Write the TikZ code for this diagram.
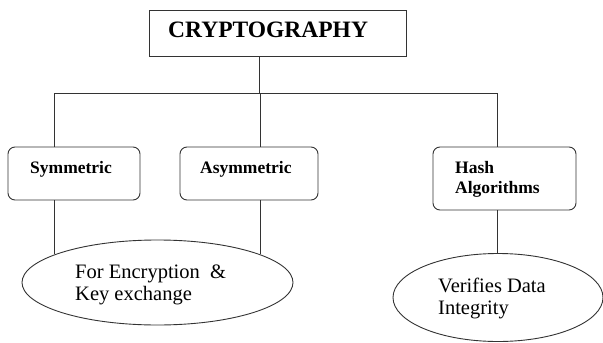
\documentclass[tikz,border=0pt]{standalone}
\usepackage{fontspec}
\setmainfont{Liberation Serif}
\usetikzlibrary{shapes.geometric}
\begin{document}
\begin{tikzpicture}[x=1pt,y=-1pt,
  ln/.style={draw=black!80,line width=0.9pt},
  topbox/.style={ln,rectangle,minimum width=257pt,minimum height=46pt,inner sep=0pt},
  catbox/.style={ln,rectangle,rounded corners=7pt,inner sep=0pt},
  oval/.style={ln,ellipse,inner sep=0pt},
  lbl/.style={font=\bfseries\fontsize{17.5}{20}\selectfont,anchor=base west,inner sep=0pt},
  txt/.style={font=\fontsize{20.5}{24}\selectfont,anchor=base west,inner sep=0pt}]
\useasboundingbox (0,0) rectangle (603,343);
% top
\node[topbox] (top) at (277.5,33) {};
\node[font=\bfseries\fontsize{23.5}{26}\selectfont,inner sep=0pt,anchor=base west] (toplbl) at (168,37) {CRYPTOGRAPHY};
% category boxes
\node[catbox,minimum width=132pt,minimum height=53pt] (sym) at (74,173.5) {};
\node[catbox,minimum width=138pt,minimum height=53pt] (asym) at (249,173.5) {};
\node[catbox,minimum width=143pt,minimum height=63pt] (hash) at (504.5,178.5) {};
\node[lbl] (symlbl) at (30,173) {Symmetric};
\node[lbl] (asymlbl) at (200,173) {Asymmetric};
\node[lbl] (hashlbl1) at (455,173) {Hash};
\node[lbl] (hashlbl2) at (455,193) {Algorithms};
% ellipses
\node[oval,minimum width=271pt,minimum height=85pt] (e1) at (157.5,282.5) {};
\node[oval,minimum width=210pt,minimum height=88pt] (e2) at (498,297.5) {};
\node[txt] (e1t1) at (75,278) {For Encryption \ \&};
\node[txt] (e1t2) at (75,300) {Key exchange};
\node[txt] (e2t1) at (438,292) {Verifies Data};
\node[txt] (e2t2) at (438,314) {Integrity};
% connectors
\coordinate (hl) at (54,93);
\coordinate (hm) at (259,93);
\coordinate (hr) at (497,93);
\draw[ln] (top.south -| hm) -- (hm);
\draw[ln] (hl) -- (hr);
\draw[ln] (hl) -- (hl |- sym.north);
\draw[ln] (260,93) -- (260,147) coordinate (asymtop);
\draw[ln] (hr) -- (hr |- hash.north);
\draw[ln] (sym.south -| hl) -- (54,254);
\draw[ln] (asym.south -| asymtop) -- (260,254);
\draw[ln] (hash.south -| hr) -- (e2.north -| hr);
\end{tikzpicture}
\end{document}
